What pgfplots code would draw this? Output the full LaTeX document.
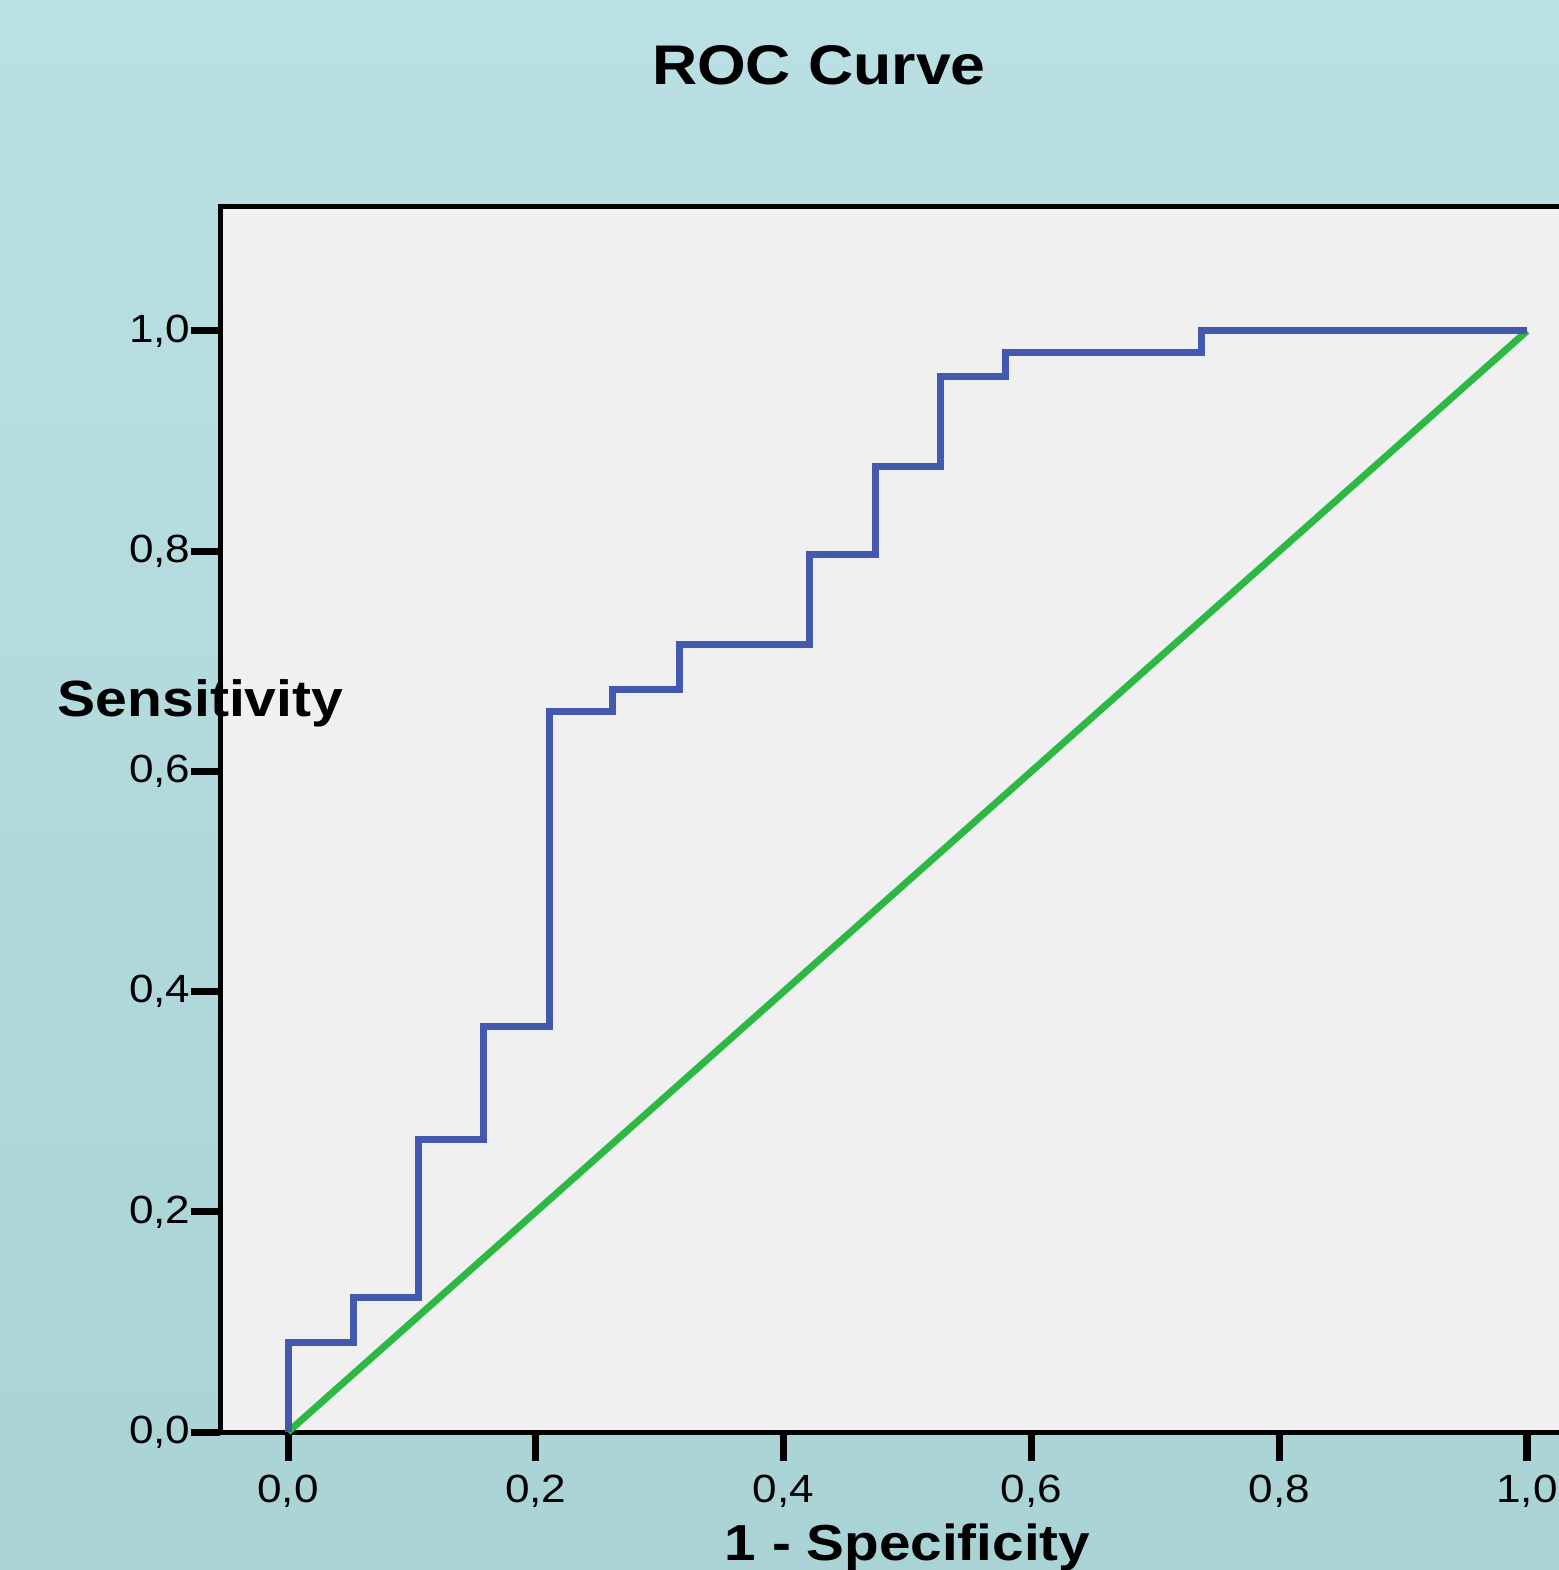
\documentclass[border=0pt]{standalone}
\usepackage{fontspec}
\setmainfont{Liberation Sans}[FakeStretch=1.12]
\usepackage{pgfplots}
\pgfplotsset{compat=1.18}
\definecolor{bgtop}{HTML}{BBE0E4}
\definecolor{bgbot}{HTML}{A9D3D5}
\definecolor{plotbg}{HTML}{F0F0F0}
\definecolor{rocblue}{HTML}{4558B0}
\definecolor{refgreen}{HTML}{2DB843}

\begin{document}
\begin{tikzpicture}
\path[use as bounding box] (0,0) rectangle (155.9mm,157mm);
\clip (0,0) rectangle (155.9mm,157mm);
\shade[top color=bgtop, bottom color=bgbot] (0,0) rectangle (155.9mm,157mm);
\begin{axis}[
    at={(22mm,13.8mm)}, anchor=south west,
    scale only axis, width=137.5mm, height=122.5mm,
    xmin=-0.0549, xmax=1.0549, ymin=0, ymax=1.1126,
    axis background/.style={fill=plotbg},
    axis line style={line width=0.5mm, black},
    tick pos=left, tick align=outside,
    major tick length=2.9mm,
    major tick style={line width=0.7mm, black},
    xtick={0,0.2,0.4,0.6,0.8,1},
    ytick={0,0.2,0.4,0.6,0.8,1},
    /pgf/number format/fixed,
    /pgf/number format/fixed zerofill,
    /pgf/number format/precision=1,
    /pgf/number format/use comma,
    /pgf/number format/assume math mode=true,
    tick label style={font=\fontsize{11.2}{13}\selectfont},
    yticklabel style={anchor=east, inner sep=0pt},
    xticklabel style={anchor=north, inner sep=0pt, yshift=-1.3mm},
    title={ROC Curve},
    every axis title/.style={font=\fontsize{15.9}{18}\selectfont\bfseries,
        at={(axis description cs:0.4356,1.0996)}, anchor=base, inner sep=0pt},
    xlabel={1 - Specificity},
    xlabel style={font=\fontsize{14.4}{16}\selectfont\bfseries,
        at={(axis description cs:0.5,-0.1053)}, anchor=base, inner sep=0pt},
    ylabel={Sensitivity},
    ylabel style={rotate=-90, font=\fontsize{14.5}{16}\selectfont\bfseries,
        at={(axis description cs:-0.1185,0.5837)}, anchor=base west, inner sep=0pt},
    clip=false,
]
% diagonal reference line
\addplot[refgreen, line width=0.7mm] coordinates {(0,0) (1,1)};
% ROC step curve
\addplot[rocblue, line width=0.7mm, line join=miter] coordinates {
    (0,0) (0,0.081) (0.053,0.081) (0.053,0.122) (0.105,0.122)
    (0.105,0.266) (0.158,0.266) (0.158,0.368) (0.211,0.368)
    (0.211,0.654) (0.262,0.654) (0.262,0.674) (0.316,0.674)
    (0.316,0.715) (0.421,0.715) (0.421,0.797) (0.474,0.797)
    (0.474,0.877) (0.527,0.877) (0.527,0.959) (0.579,0.959)
    (0.579,0.980) (0.737,0.980) (0.737,1) (1,1)
};
\end{axis}
\end{tikzpicture}
\end{document}
